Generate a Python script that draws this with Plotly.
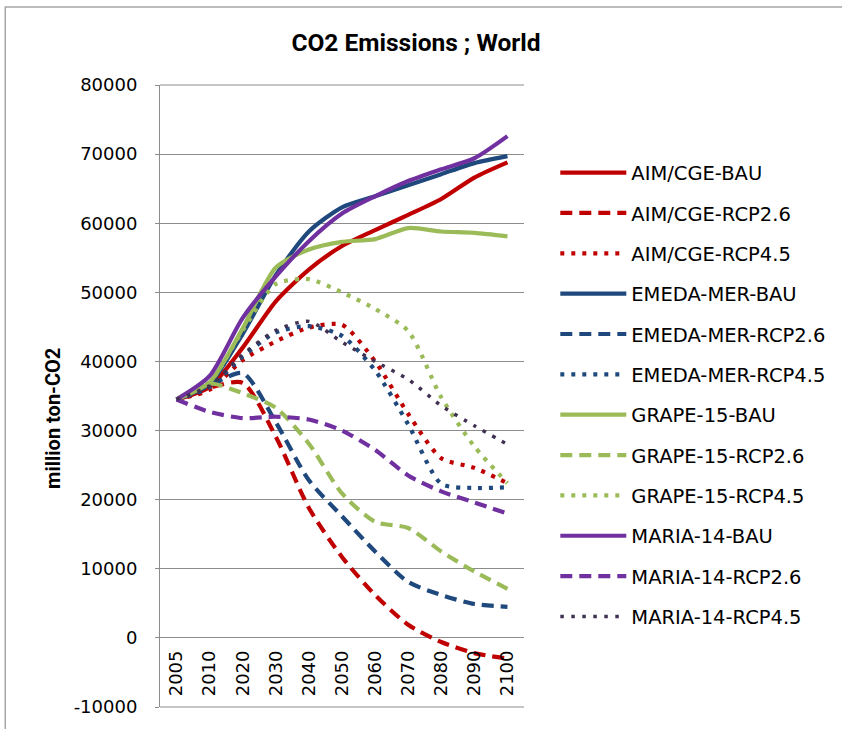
import plotly.graph_objects as go

# ---------------- data ----------------
years = ["2005", "2010", "2020", "2030", "2040", "2050", "2060", "2070", "2080", "2090", "2100"]

aim_bau = [34500, 36300, 42000, 48700, 53300, 56700, 59000, 61200, 63500, 66600, 68800]
aim_rcp26 = [34500, 36200, 36900, 29100, 18800, 11700, 6200, 1900, -600, -2200, -3000]
aim_rcp45 = [34500, 35900, 40200, 42900, 44900, 45300, 40000, 32400, 26000, 24600, 22400]
emeda_bau = [34500, 36800, 44000, 52500, 58800, 62300, 63900, 65500, 67100, 68700, 69700]
emeda_rcp26 = [34500, 36500, 38300, 31200, 22800, 17600, 12500, 8100, 6200, 4900, 4500]
emeda_rcp45 = [34500, 36300, 40700, 44200, 45100, 43700, 38700, 30900, 22300, 21700, 21800]
grape_bau = [34500, 37000, 44800, 53600, 56200, 57300, 57700, 59300, 58800, 58600, 58100]
grape_rcp26 = [34500, 36800, 35400, 33300, 28100, 20900, 16800, 15900, 12500, 9600, 7100]
grape_rcp45 = [34500, 37000, 44500, 51200, 51900, 50000, 47600, 44400, 34800, 27700, 22400]
maria_bau = [34500, 37900, 46300, 52300, 57400, 61400, 63900, 66100, 67800, 69400, 72600]
maria_rcp26 = [34500, 32700, 31800, 32000, 31600, 30000, 27200, 23500, 21200, 19600, 18000]
maria_rcp45 = [34500, 36500, 41000, 44500, 45800, 42800, 40000, 37400, 33600, 30700, 28000]

series_names = [
    "AIM/CGE-BAU", "AIM/CGE-RCP2.6", "AIM/CGE-RCP4.5",
    "EMEDA-MER-BAU", "EMEDA-MER-RCP2.6", "EMEDA-MER-RCP4.5",
    "GRAPE-15-BAU", "GRAPE-15-RCP2.6", "GRAPE-15-RCP4.5",
    "MARIA-14-BAU", "MARIA-14-RCP2.6", "MARIA-14-RCP4.5",
]
series_values = [
    aim_bau, aim_rcp26, aim_rcp45,
    emeda_bau, emeda_rcp26, emeda_rcp45,
    grape_bau, grape_rcp26, grape_rcp45,
    maria_bau, maria_rcp26, maria_rcp45,
]

y_tick_vals = [-10000, 0, 10000, 20000, 30000, 40000, 50000, 60000, 70000, 80000]
y_tick_text = ["-10000", "0", "10000", "20000", "30000", "40000", "50000", "60000", "70000", "80000"]

# ---------------- styles ----------------
RED = "#C00000"
BLUE = "#1F497D"
GREEN = "#9BBB59"
PURPLE = "#7030A0"
DARKPURPLE = "#403152"

DASH = "12px,7px"
DOT = "4px,7px"
styles = [
    (RED, "solid", 4.2), (RED, DASH, 4.2), (RED, DOT, 4.2),
    (BLUE, "solid", 4.2), (BLUE, DASH, 4.2), (BLUE, DOT, 4.2),
    (GREEN, "solid", 4.2), (GREEN, DASH, 4.2), (GREEN, DOT, 4.2),
    (PURPLE, "solid", 4.2), (PURPLE, DASH, 4.2), (DARKPURPLE, "3.5px,7.5px", 3.5),
]

fig = go.Figure()
for i, (name, vals) in enumerate(zip(series_names, series_values)):
    color, dash, width = styles[i]
    fig.add_trace(go.Scatter(
        x=years, y=vals, name=name, mode="lines",
        line=dict(color=color, dash=dash, width=width, shape="spline", smoothing=0.7),
        legendgroup=f"g{i}",
    ))

Y_MIN, Y_MAX = y_tick_vals[0], y_tick_vals[-1]
GRID = "#8C8C8C"
TICKFONT = dict(family="DejaVu Sans", size=18, color="#000000")

# gridlines at the two range edges (plotly drops grid lines at the plot-area ends)
edge_grid = [
    dict(type="line", xref="paper", yref="paper", x0=0, x1=1, y0=p, y1=p,
         layer="above", line=dict(color=GRID, width=1))
    for p in (0, 1)
]

fig.update_layout(
    width=842, height=729,
    margin=dict(l=160, r=315, t=85, b=22),
    paper_bgcolor="white", plot_bgcolor="white",
    title=dict(
        text="<b>CO2 Emissions ; World</b>",
        x=416 / 842, xref="container", xanchor="center",
        y=1 - 42 / 729, yref="container", yanchor="middle",
        font=dict(family="Roboto", size=24.5, color="#000000"),
    ),
    showlegend=True,
    legend=dict(
        x=1.086, xanchor="left", y=0.89, yanchor="top",
        font=dict(family="DejaVu Sans", size=19.5, color="#000000"),
        tracegroupgap=12, itemwidth=66,
        bgcolor="rgba(0,0,0,0)",
    ),
    xaxis=dict(
        type="category", range=[-0.5, len(years) - 0.5],
        showgrid=False, showline=False, zeroline=False,
        anchor="free", position=(0 - Y_MIN) / (Y_MAX - Y_MIN),
        tickangle=-90, ticks="", ticklabelstandoff=8,
        tickfont=TICKFONT,
    ),
    yaxis=dict(
        range=[Y_MIN, Y_MAX],
        tickvals=y_tick_vals, ticktext=y_tick_text,
        showgrid=True, gridcolor=GRID, gridwidth=1,
        zeroline=False,
        showline=True, linecolor=GRID, linewidth=1,
        ticks="outside", ticklen=4, tickcolor=GRID,
        ticklabelstandoff=14,
        tickfont=TICKFONT,
    ),
    annotations=[dict(
        text="<b>million ton-CO2</b>", textangle=-90,
        xref="paper", yref="paper",
        x=(52 - 160) / 367, y=(707 - 418) / 622,
        xanchor="center", yanchor="middle", showarrow=False,
        font=dict(family="Roboto", size=20, color="#000000"),
    )],
    shapes=[dict(
        type="rect", xref="paper", yref="paper", layer="below",
        x0=(4 - 160) / 367, x1=(860 - 160) / 367,
        y0=(707 - 760) / 622, y1=(707 - 7) / 622,
        line=dict(color="#A6A6A6", width=1.5), fillcolor="rgba(0,0,0,0)",
    )] + edge_grid,
)

fig.write_html("out.html")
